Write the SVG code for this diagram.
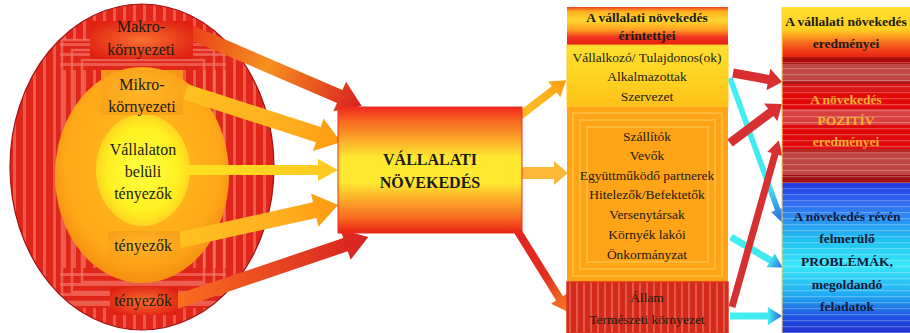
<svg xmlns="http://www.w3.org/2000/svg" width="910" height="333" viewBox="0 0 910 333">
<defs>
<style>
text{font-family:"Liberation Serif","Times New Roman",serif;text-anchor:middle;fill:#1a1a10}
.l{font-size:16px}
.c3{font-size:13.5px}
.b{font-weight:bold}
.pos{fill:#f5b030;font-weight:bold;font-size:13.5px}
.neg{fill:#101838;font-weight:bold;font-size:13.5px}
</style>
<pattern id="vstripe" width="10" height="10" patternUnits="userSpaceOnUse"><rect width="10" height="10" fill="#e0261a"/><rect x="3" width="3" height="10" fill="#ec5a4a"/></pattern>
<pattern id="hstripeR" width="10" height="10" patternUnits="userSpaceOnUse"><rect width="10" height="10" fill="#e0261a"/><rect y="3" width="10" height="3" fill="#ec5a4a"/></pattern>
<pattern id="vstripe2" width="7" height="10" patternUnits="userSpaceOnUse"><rect width="7" height="10" fill="#d42a1c"/><rect x="2" width="2" height="10" fill="#e45848"/></pattern>
<pattern id="hstripe" width="10" height="6" patternUnits="userSpaceOnUse"><rect width="10" height="6" fill="none"/><rect y="2" width="10" height="1.2" fill="#ffffff" opacity="0.25"/></pattern>
<radialGradient id="gMid" cx="0.5" cy="0.45" r="0.55"><stop offset="0" stop-color="#ffc020"/><stop offset="0.8" stop-color="#ffa818"/><stop offset="1" stop-color="#f59010"/></radialGradient>
<radialGradient id="gIn" cx="0.5" cy="0.5" r="0.55"><stop offset="0" stop-color="#ffff40"/><stop offset="0.7" stop-color="#fff020"/><stop offset="1" stop-color="#ffc820"/></radialGradient>
<radialGradient id="gBoxR" cx="0.5" cy="0.5" r="0.6"><stop offset="0" stop-color="#f87030"/><stop offset="1" stop-color="#e02010"/></radialGradient>
<radialGradient id="gBoxO" cx="0.5" cy="0.5" r="0.6"><stop offset="0" stop-color="#ffb828"/><stop offset="1" stop-color="#f8a018"/></radialGradient>
<linearGradient id="gCenter" x1="0" y1="0" x2="0" y2="1"><stop offset="0" stop-color="#f02820"/><stop offset="0.12" stop-color="#f86a20"/><stop offset="0.4" stop-color="#ffe830"/><stop offset="0.6" stop-color="#ffe830"/><stop offset="0.88" stop-color="#f86a20"/><stop offset="1" stop-color="#e82018"/></linearGradient>
<linearGradient id="gH3" x1="0" y1="0" x2="0" y2="1"><stop offset="0" stop-color="#f04020"/><stop offset="0.12" stop-color="#ffb020"/><stop offset="0.35" stop-color="#ffd830"/><stop offset="0.6" stop-color="#ffa020"/><stop offset="0.8" stop-color="#f03020"/><stop offset="1" stop-color="#e82010"/></linearGradient>
<linearGradient id="gY3" x1="0" y1="0" x2="0" y2="1"><stop offset="0" stop-color="#ffe030"/><stop offset="0.6" stop-color="#ffd020"/><stop offset="1" stop-color="#ffc018"/></linearGradient>
<linearGradient id="gH4" x1="0" y1="0" x2="0" y2="1"><stop offset="0" stop-color="#ffe030"/><stop offset="0.45" stop-color="#ffd020"/><stop offset="0.75" stop-color="#f86020"/><stop offset="1" stop-color="#e82010"/></linearGradient>
<linearGradient id="gBlue" x1="0" y1="0" x2="0" y2="1"><stop offset="0" stop-color="#2038e0"/><stop offset="0.15" stop-color="#3070f0"/><stop offset="0.38" stop-color="#20c0f0"/><stop offset="0.55" stop-color="#38e8f8"/><stop offset="0.75" stop-color="#20a8f0"/><stop offset="0.9" stop-color="#2050e0"/><stop offset="1" stop-color="#2030d0"/></linearGradient>
<linearGradient id="aRed" x1="0" y1="0" x2="1" y2="0"><stop offset="0" stop-color="#e84018"/><stop offset="0.45" stop-color="#f89020"/><stop offset="1" stop-color="#d82020"/></linearGradient>
<linearGradient id="aOr" x1="0" y1="0" x2="1" y2="0"><stop offset="0" stop-color="#ffc020"/><stop offset="0.6" stop-color="#ffb020"/><stop offset="1" stop-color="#ff9a10"/></linearGradient>
<linearGradient id="aYel" x1="0" y1="0" x2="1" y2="0"><stop offset="0" stop-color="#ffe020"/><stop offset="1" stop-color="#ffc820"/></linearGradient>
<linearGradient id="aRed2" x1="0" y1="0" x2="1" y2="0"><stop offset="0" stop-color="#f87020"/><stop offset="1" stop-color="#d82020"/></linearGradient>
<linearGradient id="aRed3" x1="0" y1="0" x2="1" y2="0"><stop offset="0" stop-color="#e02020"/><stop offset="0.6" stop-color="#e03020"/><stop offset="1" stop-color="#f88020"/></linearGradient>
<linearGradient id="aCy" x1="0" y1="0" x2="1" y2="0"><stop offset="0" stop-color="#40f0f0"/><stop offset="0.75" stop-color="#40e8f0"/><stop offset="1" stop-color="#3060e0"/></linearGradient>
<clipPath id="clipOuter"><ellipse cx="142" cy="167" rx="132" ry="163"/></clipPath>
</defs>

<g id="ellipses">
<g clip-path="url(#clipOuter)">
<rect x="0" y="0" width="290" height="333" fill="url(#vstripe)"/>
<rect x="60" y="40" width="166" height="30" fill="url(#hstripeR)"/>
<rect x="60" y="268" width="166" height="40" fill="url(#hstripeR)"/>
<g fill="none" stroke="#f07a68" stroke-width="2.5" opacity="0.7">
<rect x="62" y="40" width="162" height="262"/>
<rect x="72" y="50" width="142" height="242"/>
<rect x="82" y="60" width="122" height="222"/>
</g>
</g>
<ellipse cx="142" cy="167" rx="132" ry="163" fill="none" stroke="#a01010" stroke-width="1.2"/>
<ellipse cx="142" cy="175" rx="87" ry="108" fill="url(#gMid)"/>
<ellipse cx="143" cy="170" rx="47" ry="56" fill="url(#gIn)"/>
</g>

<g id="connectors">
<g transform="translate(190,32) rotate(23.3)"><polygon points="0,-7 163,-7 163,-16 187,0 163,16 163,7 0,7" fill="url(#aRed)"/></g>
<g transform="translate(186,92) rotate(17.9)"><polygon points="0,-8 139,-8 139,-17 163,0 139,17 139,8 0,8" fill="url(#aOr)"/></g>
<g transform="translate(188,170)"><polygon points="0,-5 130,-5 130,-11 150,0 130,11 130,5 0,5" fill="url(#aYel)"/></g>
<g transform="translate(180,240) rotate(-12.5)"><polygon points="0,-8 138,-8 138,-17 162,0 138,17 138,8 0,8" fill="url(#aOr)"/></g>
<g transform="translate(176,302) rotate(-18.7)"><polygon points="0,-7 179,-7 179,-16 203,0 179,16 179,7 0,7" fill="url(#aRed2)"/></g>

<g transform="translate(517,118) rotate(-37.6)"><polygon points="0,-4 47,-4 47,-10 62,0 47,10 47,4 0,4" fill="url(#aOr)"/></g>
<g transform="translate(522,173)"><polygon points="0,-6 32,-6 32,-12 46,0 32,12 32,6 0,6" fill="#ffb838"/></g>
<g transform="translate(512,222) rotate(58.1)"><polygon points="0,-4 90,-4 90,-10 106,0 90,10 90,4 0,4" fill="url(#aRed3)"/></g>

<g transform="translate(730,78) rotate(70.1)"><polygon points="0,-2.8 140,-2.8 140,-7 154,0 140,7 140,2.8 0,2.8" fill="url(#aCy)"/></g>
<g transform="translate(731,237) rotate(30.5)"><polygon points="0,-3.5 46,-3.5 46,-8 60,0 46,8 46,3.5 0,3.5" fill="url(#aCy)"/></g>
<g transform="translate(730,316)"><polygon points="0,-3.5 38,-3.5 38,-9 52,0 38,9 38,3.5 0,3.5" fill="url(#aCy)"/></g>
<g transform="translate(733,73) rotate(10.4)"><polygon points="0,-4.5 36,-4.5 36,-11 50,0 36,11 36,4.5 0,4.5" fill="#d83030"/></g>
<g transform="translate(730,143) rotate(-36.9)"><polygon points="0,-4.5 51,-4.5 51,-11 65,0 51,11 51,4.5 0,4.5" fill="#d83030"/></g>
<g transform="translate(732,307) rotate(-74.3)"><polygon points="0,-3.5 159,-3.5 159,-8 173,0 159,8 159,3.5 0,3.5" fill="#d83030"/></g>
</g>

<g id="label-makro">
<rect x="90" y="21" width="103" height="38" fill="url(#gBoxR)"/>
<text class="l" x="141" y="32">Makro-</text>
<text class="l" x="141" y="55">környezeti</text>
</g>
<g id="label-mikro">
<rect x="101" y="70" width="82" height="45" fill="url(#gBoxO)" opacity="0.9"/>
<text class="l" x="142" y="90">Mikro-</text>
<text class="l" x="142" y="112">környezeti</text>
</g>
<g id="label-belul">
<text class="l" x="143" y="155">Vállalaton</text>
<text class="l" x="143" y="177">belüli</text>
<text class="l" x="143" y="199">tényezők</text>
</g>
<g id="label-mikro-t">
<rect x="108" y="231" width="72" height="28" fill="url(#gBoxO)"/>
<text class="l" x="143" y="251">tényezők</text>
</g>
<g id="label-makro-t">
<rect x="110" y="287" width="68" height="28" fill="url(#gBoxR)"/>
<text class="l" x="143" y="306">tényezők</text>
</g>

<g id="center">
<rect x="338" y="107" width="184" height="126" fill="url(#gCenter)" stroke="#e83020" stroke-width="1"/>
<text class="b" x="430" y="165" font-size="16">VÁLLALATI</text>
<text class="b" x="430" y="188" font-size="16">NÖVEKEDÉS</text>
</g>

<g id="erintettek">
<rect x="567" y="7" width="161" height="38" fill="url(#gH3)"/>
<text class="c3 b" x="647" y="22">A vállalati növekedés</text>
<text class="c3 b" x="647" y="40">érintettjei</text>
<rect x="567" y="45" width="161" height="62" fill="url(#gY3)" stroke="#ffc830" stroke-width="1"/>
<text class="c3" x="647" y="62">Vállalkozó/ Tulajdonos(ok)</text>
<text class="c3" x="647" y="81">Alkalmazottak</text>
<text class="c3" x="647" y="101">Szervezet</text>
<rect x="567" y="107" width="161" height="175" fill="#ffa416"/>
<g fill="none" stroke="#ffb838" stroke-width="2">
<rect x="573" y="113" width="149" height="163"/>
<rect x="580" y="120" width="135" height="149"/>
<rect x="587" y="127" width="121" height="135"/>
</g>
<text class="c3" x="647" y="141">Szállítók</text>
<text class="c3" x="647" y="160">Vevők</text>
<text class="c3" x="647" y="180">Együttműködő partnerek</text>
<text class="c3" x="647" y="199">Hitelezők/Befektetők</text>
<text class="c3" x="647" y="219">Versenytársak</text>
<text class="c3" x="647" y="239">Környék lakói</text>
<text class="c3" x="647" y="259">Önkormányzat</text>
<rect x="567" y="282" width="161" height="51" fill="url(#vstripe2)"/>
<rect x="567" y="282" width="161" height="51" fill="none" stroke="#e03020" stroke-width="1.5"/>
<text class="c3" x="647" y="302">Állam</text>
<text class="c3" x="647" y="324">Természeti környezet</text>
</g>

<g id="eredmenyek">
<rect x="782" y="7" width="128" height="50" fill="url(#gH4)"/>
<text class="c3 b" x="846" y="26">A vállalati növekedés</text>
<text class="c3 b" x="846" y="48">eredményei</text>
<rect x="782" y="57" width="128" height="126" fill="#d82020"/>
<rect x="782" y="57" width="128" height="7" fill="#a80c0c"/>
<rect x="782" y="64" width="128" height="17" fill="#c04848"/>
<rect x="782" y="81" width="128" height="3" fill="#b01818"/>
<rect x="782" y="84" width="128" height="8" fill="#d81818"/>
<rect x="782" y="92" width="128" height="17" fill="#e20808"/>
<rect x="782" y="109" width="128" height="16" fill="#d84040"/>
<rect x="782" y="125" width="128" height="24" fill="#e00a0a"/>
<rect x="782" y="149" width="128" height="4" fill="#b82828"/>
<rect x="782" y="153" width="128" height="22" fill="#c04646"/>
<rect x="782" y="175" width="128" height="8" fill="#a01010"/>
<rect x="782" y="57" width="128" height="126" fill="url(#hstripe)"/>
<text class="pos" x="846" y="104">A növekedés</text>
<text class="pos" x="846" y="125">POZITÍV</text>
<text class="pos" x="846" y="146">eredményei</text>
<rect x="782" y="183" width="128" height="150" fill="url(#gBlue)"/>
<rect x="782" y="183" width="128" height="150" fill="url(#hstripe)"/>
<line x1="782" y1="7" x2="782" y2="333" stroke="#ffd040" stroke-width="1"/>
<text class="neg" x="847" y="221">A növekedés révén</text>
<text class="neg" x="847" y="243">felmerülő</text>
<text class="neg" x="847" y="266">PROBLÉMÁK,</text>
<text class="neg" x="847" y="289">megoldandó</text>
<text class="neg" x="847" y="311">feladatok</text>
</g>
</svg>
